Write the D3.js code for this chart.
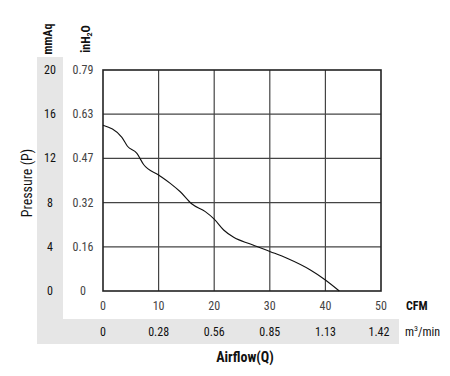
<!DOCTYPE html>
<html><head><meta charset="utf-8">
<script src="https://cdn.jsdelivr.net/npm/d3@7"></script>
<style>body{margin:0;background:#fff}svg{display:block}text{font-family:"Liberation Sans Narrow","Roboto Condensed",Roboto,sans-serif}</style>
</head><body><svg id="c" width="450" height="376"></svg>
<script>
const cfmTicks = [0, 10, 20, 30, 40, 50];
const m3Labels = ["0", "0.28", "0.56", "0.85", "1.13", "1.42"];
const mmAqTicks = [0, 4, 8, 12, 16, 20];
const inH2OLabels = ["0", "0.16", "0.32", "0.47", "0.63", "0.79"];
const curveCFM = [0, 3.4, 4.4, 6.1, 7.3, 10, 12.1, 13.9, 16, 18.4, 20, 21.7, 23.5, 26.5, 30.1, 33.1, 37.3, 40, 42.5];
const curveP   = [15.0, 13.9, 13.1, 12.45, 11.45, 10.5, 9.74, 8.98, 7.87, 7.18, 6.5, 5.52, 4.86, 4.25, 3.56, 2.96, 1.9, 1.0, 0];

const svg = d3.select("#c");
const x = d3.scaleLinear().domain([0, 50]).range([103, 381]);
const y = d3.scaleLinear().domain([0, 20]).range([291, 70]);

svg.append("rect").attr("x", 37).attr("y", 57).attr("width", 26).attr("height", 287).attr("fill", "#e6e6e6");
svg.append("rect").attr("x", 37).attr("y", 319).attr("width", 362).attr("height", 25).attr("fill", "#e6e6e6");

const g = svg.append("g");
g.selectAll(".vx").data(cfmTicks.slice(1, -1)).join("line")
  .attr("x1", d => x(d)).attr("x2", d => x(d)).attr("y1", y(20)).attr("y2", y(0))
  .attr("stroke", "#444").attr("stroke-width", 1.2);
g.selectAll(".hy").data(mmAqTicks.slice(1, -1)).join("line")
  .attr("x1", x(0)).attr("x2", x(50)).attr("y1", d => y(d)).attr("y2", d => y(d))
  .attr("stroke", "#444").attr("stroke-width", 1.2);
g.append("rect").attr("x", x(0)).attr("y", y(20)).attr("width", x(50) - x(0)).attr("height", y(0) - y(20))
  .attr("fill", "none").attr("stroke", "#222").attr("stroke-width", 1.6);

const pts = curveCFM.map((c, i) => [c, curveP[i]]);
svg.append("path").datum(pts)
  .attr("d", d3.line().x(d => x(d[0])).y(d => y(d[1])).curve(d3.curveMonotoneX))
  .attr("fill", "none").attr("stroke", "#111").attr("stroke-width", 1.1);

svg.selectAll(".mm").data(mmAqTicks).join("text")
  .attr("x", 50).attr("y", d => y(d) + 4).attr("text-anchor", "middle")
  .attr("font-size", 12).attr("fill", "#111").text(d => d);
svg.selectAll(".inh").data(mmAqTicks).join("text")
  .attr("x", 83).attr("y", d => y(d) + 4).attr("text-anchor", "middle")
  .attr("font-size", 12).attr("fill", "#444").text((d, i) => inH2OLabels[i]);
svg.selectAll(".cfm").data(cfmTicks).join("text")
  .attr("x", d => x(d)).attr("y", 310).attr("text-anchor", "middle")
  .attr("font-size", 12).attr("fill", "#444").text(d => d);
svg.selectAll(".m3").data(cfmTicks).join("text")
  .attr("x", d => x(d) + (d === 50 ? -2 : 0)).attr("y", 336).attr("text-anchor", "middle")
  .attr("font-size", 12).attr("fill", "#111").text((d, i) => m3Labels[i]);

svg.append("text").attr("x", 406).attr("y", 310).attr("font-size", 12).attr("font-weight", "bold").attr("fill", "#111").text("CFM");
const mt = svg.append("text").attr("x", 405).attr("y", 336).attr("font-size", 12).attr("fill", "#111");
mt.append("tspan").text("m");
mt.append("tspan").attr("font-size", 8).attr("dy", -5).text("3");
mt.append("tspan").attr("dy", 5).text("/min");

svg.append("text").attr("transform", "translate(52,39) rotate(-90)").attr("text-anchor", "middle")
  .attr("font-size", 12).attr("font-weight", "bold").attr("fill", "#111").text("mmAq");
const ih = svg.append("text").attr("transform", "translate(90,39) rotate(-90)").attr("text-anchor", "middle")
  .attr("font-size", 12).attr("font-weight", "bold").attr("fill", "#111");
ih.append("tspan").text("inH");
ih.append("tspan").attr("font-size", 8).attr("dy", 2).text("2");
ih.append("tspan").attr("dy", -2).text("O");

svg.append("text").attr("transform", "translate(32,183) rotate(-90)").attr("text-anchor", "middle")
  .attr("font-size", 14).attr("fill", "#111").text("Pressure (P)");
svg.append("text").attr("x", 245).attr("y", 362).attr("text-anchor", "middle")
  .attr("font-size", 14).attr("font-weight", "bold").attr("fill", "#111").text("Airflow(Q)");
</script></body></html>
